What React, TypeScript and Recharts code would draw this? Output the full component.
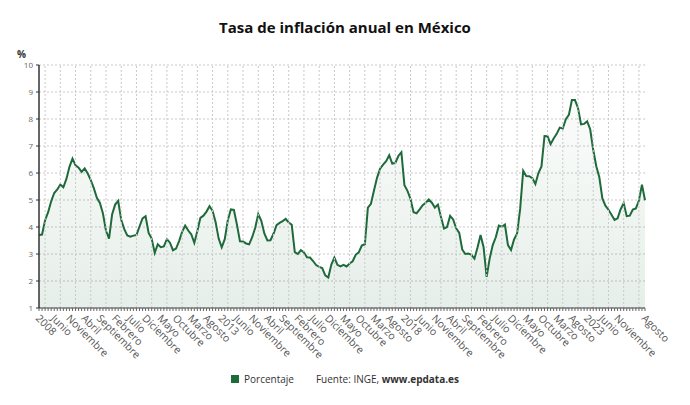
import React from 'react';
import { ComposedChart, Area, XAxis, YAxis, CartesianGrid, ReferenceLine } from 'recharts';

// Annual inflation rate (%), monthly, Jan 2008 - Aug 2024
const y2008 = [3.70, 3.72, 4.25, 4.55, 4.95, 5.26, 5.39, 5.57, 5.47, 5.78, 6.23, 6.53];
const y2009 = [6.28, 6.20, 6.04, 6.17, 5.98, 5.74, 5.44, 5.08, 4.89, 4.50, 3.86, 3.57];
const y2010 = [4.46, 4.83, 4.97, 4.27, 3.92, 3.69, 3.64, 3.68, 3.70, 4.02, 4.32, 4.40];
const y2011 = [3.78, 3.57, 3.04, 3.36, 3.25, 3.28, 3.55, 3.42, 3.14, 3.20, 3.48, 3.82];
const y2012 = [4.05, 3.87, 3.73, 3.41, 3.85, 4.34, 4.42, 4.57, 4.77, 4.60, 4.18, 3.57];
const y2013 = [3.25, 3.55, 4.25, 4.65, 4.63, 4.09, 3.47, 3.46, 3.39, 3.36, 3.62, 3.97];
const y2014 = [4.48, 4.23, 3.76, 3.50, 3.51, 3.75, 4.07, 4.15, 4.22, 4.30, 4.17, 4.08];
const y2015 = [3.07, 3.00, 3.14, 3.06, 2.88, 2.87, 2.74, 2.59, 2.52, 2.48, 2.21, 2.13];
const y2016 = [2.61, 2.87, 2.60, 2.54, 2.60, 2.54, 2.65, 2.73, 2.97, 3.06, 3.31, 3.36];
const y2017 = [4.72, 4.86, 5.35, 5.82, 6.16, 6.31, 6.44, 6.66, 6.35, 6.37, 6.63, 6.77];
const y2018 = [5.55, 5.34, 5.04, 4.55, 4.51, 4.65, 4.81, 4.90, 5.02, 4.90, 4.72, 4.83];
const y2019 = [4.37, 3.94, 4.00, 4.41, 4.28, 3.95, 3.78, 3.16, 3.00, 3.02, 2.97, 2.83];
const y2020 = [3.24, 3.70, 3.25, 2.15, 2.84, 3.33, 3.62, 4.05, 4.01, 4.09, 3.33, 3.15];
const y2021 = [3.54, 3.76, 4.67, 6.08, 5.89, 5.88, 5.81, 5.59, 6.00, 6.24, 7.37, 7.36];
const y2022 = [7.07, 7.28, 7.45, 7.68, 7.65, 7.99, 8.15, 8.70, 8.70, 8.41, 7.80, 7.82];
const y2023 = [7.91, 7.62, 6.85, 6.25, 5.84, 5.06, 4.79, 4.64, 4.45, 4.26, 4.32, 4.66];
const y2024 = [4.88, 4.40, 4.42, 4.65, 4.69, 4.98, 5.57, 4.99];

const START_YEAR = 2008;
const MONTHS = ['Enero', 'Febrero', 'Marzo', 'Abril', 'Mayo', 'Junio', 'Julio', 'Agosto', 'Septiembre', 'Octubre', 'Noviembre', 'Diciembre'];
const Y_TICKS = [1, 2, 3, 4, 5, 6, 7, 8, 9, 10];
const LABEL_STEP = 5;
const GRID_OFFSET = 2;

const values = [
  ...y2008, ...y2009, ...y2010, ...y2011, ...y2012, ...y2013, ...y2014, ...y2015, ...y2016,
  ...y2017, ...y2018, ...y2019, ...y2020, ...y2021, ...y2022, ...y2023, ...y2024,
];
const data = values.map((v, i) => ({ i, v }));
const lastIndex = values.length - 1;
const allTicks = data.map((d) => d.i);
const labelSet = new Set<number>(
  allTicks.filter((i) => (i % LABEL_STEP === 0 && lastIndex - i >= LABEL_STEP) || i === lastIndex)
);
const gridXs = allTicks.filter((i) => i % LABEL_STEP === GRID_OFFSET);

const labelFor = (i: number) => {
  const m = i % 12;
  const y = START_YEAR + Math.floor(i / 12);
  return m === 0 ? String(y) : MONTHS[m];
};

const FONT = '"Open Sans", sans-serif';
const GREEN = '#1e6a3a';

const XTick = (props: any) => {
  const { x, y, payload } = props;
  const i = payload.value;
  if (!labelSet.has(i)) return <g />;
  return (
    <text
      transform={`translate(${x - 4},${y + 6}) rotate(45)`}
      textAnchor="start"
      fontSize={10.5}
      fill="#555"
      fontFamily={FONT}
    >
      {labelFor(i)}
    </text>
  );
};

export default function App() {
  return (
    <div style={{ position: 'absolute', left: 0, top: 0, width: 690, height: 405, background: '#fff', fontFamily: FONT }}>
      <div style={{ position: 'absolute', left: 0, top: 17, width: 690, textAlign: 'center', fontSize: 15, lineHeight: '20px', fontWeight: 700, color: '#111' }}>
        Tasa de inflación anual en México
      </div>
      <div style={{ position: 'absolute', left: 17, top: 47, fontSize: 10, lineHeight: '14px', fontWeight: 700, color: '#333' }}>%</div>
      <ComposedChart width={690} height={405} data={data} margin={{ top: 65, right: 45, left: 9, bottom: 67 }}>
        <defs>
          <linearGradient id="areaFill" x1="0" y1="0" x2="0" y2="1">
            <stop offset="0%" stopColor={GREEN} stopOpacity={0.02} />
            <stop offset="100%" stopColor={GREEN} stopOpacity={0.11} />
          </linearGradient>
        </defs>
        <CartesianGrid vertical={false} stroke="#c9c9c9" strokeDasharray="2 2" />
        {gridXs.map((gx) => (
          <ReferenceLine key={gx} x={gx} stroke="#c9c9c9" strokeDasharray="2 2" ifOverflow="hidden" />
        ))}
        <XAxis
          dataKey="i"
          type="number"
          domain={[0, lastIndex]}
          ticks={allTicks}
          interval={0}
          height={30}
          tickSize={3}
          tickMargin={2}
          axisLine={{ stroke: '#444' }}
          tickLine={{ stroke: '#666' }}
          tick={<XTick />}
        />
        <YAxis
          type="number"
          domain={[1, 10]}
          ticks={Y_TICKS}
          interval={0}
          width={30}
          tickSize={3}
          tickMargin={3}
          axisLine={{ stroke: '#333', strokeWidth: 1.5 }}
          tickLine={{ stroke: '#333' }}
          tick={{ fontSize: 8, fill: '#666', fontFamily: FONT }}
        />
        <Area
          type="linear"
          dataKey="v"
          stroke={GREEN}
          strokeWidth={2}
          fill="url(#areaFill)"
          fillOpacity={1}
          dot={false}
          activeDot={false}
          isAnimationActive={false}
        />
      </ComposedChart>
      <div style={{ position: 'absolute', left: 0, top: 372, width: 690, height: 14, display: 'flex', justifyContent: 'center', alignItems: 'center', fontSize: 10, lineHeight: '14px', color: '#333' }}>
        <span style={{ display: 'inline-block', width: 8, height: 8, background: GREEN, marginRight: 5 }} />
        <span>Porcentaje</span>
        <span style={{ marginLeft: 22 }}>Fuente: INGE, <b>www.epdata.es</b></span>
      </div>
    </div>
  );
}
